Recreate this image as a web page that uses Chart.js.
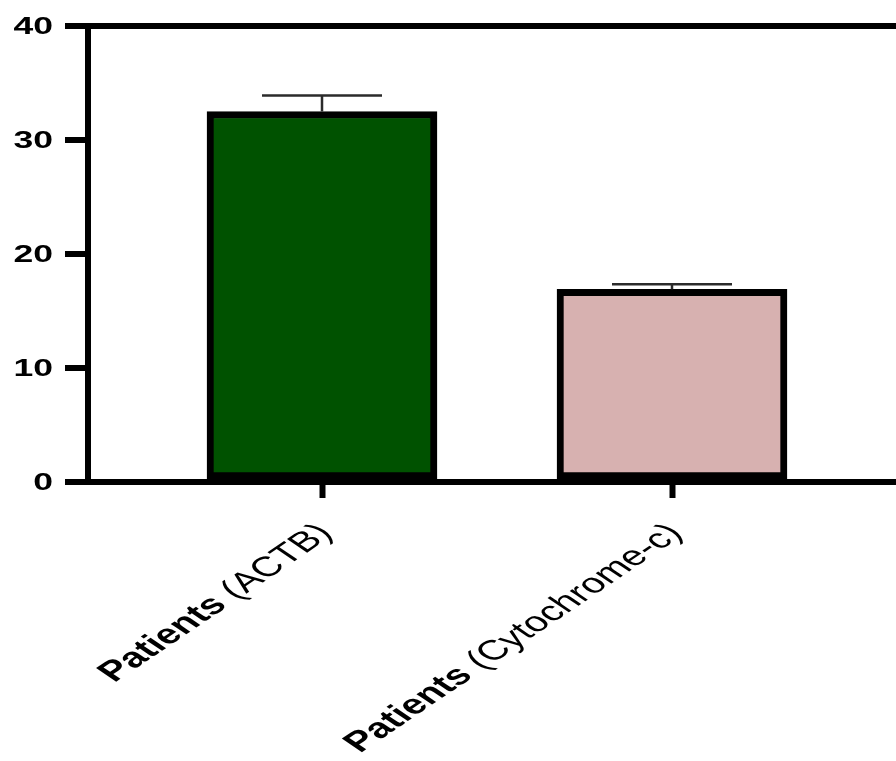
<!DOCTYPE html>
<html>
<head>
<meta charset="utf-8">
<script src="https://cdn.jsdelivr.net/npm/chart.js@4"></script>
<style>
  html, body { margin: 0; padding: 0; background: #ffffff; }
  #wrap { width: 896px; height: 761px; }
</style>
</head>
<body>
<div id="wrap"><canvas id="c" width="896" height="761"></canvas></div>
<script>
// ---- data ----
const categoryMain = ['Patients', 'Patients'];
const categoryDetail = [' (ACTB)', ' (Cytochrome-c)'];
const categoryPos = [1, 2];
const meanValues = [32.5, 16.9];
const errorValues = [1.4, 0.45];
const barColors = ['#005200', '#d7b1b0'];
const yTicks = [0, 10, 20, 30, 40];

const STRETCH = 1.48;
const FONT = '"Liberation Sans", Arial, Helvetica, sans-serif';

const errorBarPlugin = {
  id: 'errorBars',
  afterDatasetsDraw(chart) {
    const ctx = chart.ctx;
    const xs = chart.scales.x, ys = chart.scales.y;
    ctx.save();
    ctx.strokeStyle = '#2b2b2b';
    ctx.lineWidth = 2.5;
    meanValues.forEach((v, i) => {
      const x = xs.getPixelForValue(categoryPos[i]);
      const yTop = ys.getPixelForValue(v + errorValues[i]);
      const yBar = ys.getPixelForValue(v);
      ctx.beginPath();
      ctx.moveTo(x, yBar);
      ctx.lineTo(x, yTop);
      ctx.moveTo(x - 60, yTop);
      ctx.lineTo(x + 60, yTop);
      ctx.stroke();
    });
    ctx.restore();
  }
};

const labelPlugin = {
  id: 'stretchedLabels',
  afterDraw(chart) {
    const ctx = chart.ctx;
    const xs = chart.scales.x, ys = chart.scales.y;
    ctx.save();
    ctx.fillStyle = '#000';
    // y tick labels
    ctx.font = 'bold 24px ' + FONT;
    ctx.textAlign = 'right';
    ctx.textBaseline = 'middle';
    yTicks.forEach(t => {
      const y = ys.getPixelForValue(t);
      ctx.save();
      ctx.translate(53, y + 1);
      ctx.scale(STRETCH, 1);
      ctx.fillText(String(t), 0, 0);
      ctx.restore();
    });
    // x category labels
    const size = 28;
    const bold = 'bold ' + size + 'px ' + FONT;
    const reg = size + 'px ' + FONT;
    categoryMain.forEach((m, i) => {
      const x = xs.getPixelForValue(categoryPos[i]);
      ctx.save();
      ctx.translate(x + 4, 529);
      ctx.scale(STRETCH, 1);
      ctx.rotate(-Math.PI / 4);
      ctx.textAlign = 'left';
      ctx.textBaseline = 'middle';
      ctx.font = bold;
      const w1 = ctx.measureText(m).width;
      ctx.font = reg;
      const w2 = ctx.measureText(categoryDetail[i]).width;
      const start = -(w1 + w2);
      ctx.font = bold;
      ctx.fillText(m, start, 0);
      ctx.font = reg;
      ctx.fillText(categoryDetail[i], start + w1, 0);
      ctx.restore();
    });
    ctx.restore();
  }
};

new Chart(document.getElementById('c'), {
  type: 'bar',
  data: {
    datasets: [{
      data: meanValues.map((v, i) => ({ x: categoryPos[i], y: v })),
      backgroundColor: barColors,
      borderColor: '#000',
      borderWidth: 7,
      borderSkipped: false,
      barThickness: 230
    }]
  },
  options: {
    responsive: false,
    animation: false,
    layout: { padding: { top: 26, right: 0, bottom: 0, left: 0 } },
    plugins: { legend: { display: false }, tooltip: { enabled: false } },
    scales: {
      x: {
        type: 'linear',
        offset: false,
        min: 0.3314,
        max: 2.64,
        afterBuildTicks: s => { s.ticks = categoryPos.map(v => ({ value: v })); },
        afterFit: s => { s.height = 279; },
        ticks: { display: false },
        grid: { offset: false, drawOnChartArea: false, drawTicks: true, tickLength: 16, tickWidth: 6, tickColor: '#000' },
        border: { display: true, color: '#000', width: 6 }
      },
      y: {
        min: 0,
        max: 40,
        afterBuildTicks: s => { s.ticks = yTicks.map(v => ({ value: v })); },
        afterFit: s => { s.width = 88; },
        ticks: { display: false },
        grid: {
          drawOnChartArea: true,
          color: c => (c.tick && c.tick.value === 40) ? '#000' : 'rgba(0,0,0,0)',
          lineWidth: 6,
          tickLength: 23,
          tickWidth: 6,
          tickColor: '#000'
        },
        border: { display: true, color: '#000', width: 6 }
      }
    }
  },
  plugins: [errorBarPlugin, labelPlugin]
});
</script>
</body>
</html>
